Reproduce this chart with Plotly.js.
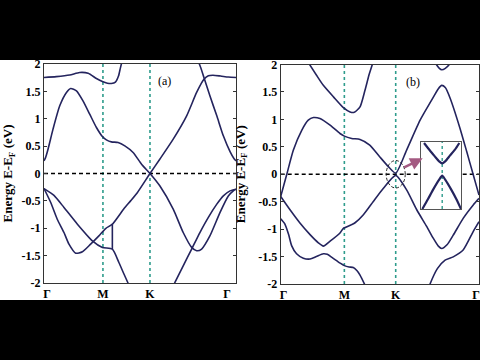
<!DOCTYPE html>
<html>
<head>
<meta charset="utf-8">
<script src="https://cdn.plot.ly/plotly-3.0.1.min.js"></script>
<style>html,body{margin:0;padding:0;background:#000;}#chart{width:480px;height:360px;}</style>
</head>
<body>
<div id="chart"></div>
<script>
// ---------- Data (path coordinate 0..1, energy in eV) ----------
// Panel (a) high-symmetry points (dashed lines at M, K) and label positions
const aSymK = [0, 0.307, 0.552, 1];
const aLabelK = [0.016, 0.307, 0.552, 0.953];
const symLabels = ['Γ', 'M', 'K', 'Γ'];
const yTickVals = [2, 1.5, 1, 0.5, 0, -0.5, -1, -1.5, -2];
const yTickText = ['2', '1.5', '1', '0.5', '0', '-0.5', '-1', '-1.5', '-2'];

// Panel (a) bands
const a1K = [0, 0.064, 0.134, 0.186, 0.23, 0.273, 0.304, 0.33, 0.351, 0.372, 0.388, 0.398, 0.41];
const a1E = [1.753, 1.77, 1.80, 1.845, 1.83, 1.735, 1.68, 1.65, 1.644, 1.67, 1.78, 1.93, 2.1];

const a2K = [0, 0.008, 0.021, 0.047, 0.082, 0.117, 0.139, 0.169, 0.203, 0.238, 0.273, 0.304, 0.325, 0.351, 0.386, 0.421, 0.464, 0.508, 0.552, 0.603, 0.673, 0.725, 0.769, 0.795, 0.821, 0.864, 0.917, 0.96, 0.986, 1];
const a2E = [0.231, 0.29, 0.444, 0.81, 1.236, 1.48, 1.553, 1.51, 1.327, 1.084, 0.84, 0.676, 0.615, 0.578, 0.566, 0.505, 0.384, 0.17, 0, -0.225, -0.651, -1.078, -1.35, -1.41, -1.38, -1.14, -0.71, -0.41, -0.317, -0.286];

const a3K = [0, 0.035, 0.069, 0.104, 0.13, 0.165, 0.2, 0.243, 0.286, 0.321, 0.356, 0.417, 0.451, 0.486, 0.552, 0.603, 0.673, 0.743, 0.795, 0.833, 0.856, 0.88, 0.92, 0.96, 1];
const a3E = [-0.275, -0.53, -0.835, -1.078, -1.29, -1.456, -1.43, -1.29, -1.14, -1.005, -0.926, -0.64, -0.5, -0.35, 0, 0.26, 0.627, 1.053, 1.48, 1.72, 1.785, 1.795, 1.78, 1.762, 1.753];

const a4K = [0.79, 0.809, 0.833, 0.864, 0.9, 0.934, 0.969, 0.99, 1];
const a4E = [2.1, 2.0, 1.753, 1.419, 1.053, 0.688, 0.4, 0.27, 0.231];

const a5K = [0, 0.052, 0.104, 0.174, 0.252, 0.304, 0.356, 0.39, 0.417, 0.4375, 0.45];
const a5E = [-0.275, -0.4, -0.62, -0.926, -1.23, -1.35, -1.383, -1.626, -1.84, -2.0, -2.1];

const a6K = [0.356, 0.356];
const a6E = [-0.926, -1.383];

const a7K = [0.67, 0.682, 0.725, 0.769, 0.812, 0.856, 0.9, 0.934, 0.969, 1];
const a7E = [-2.08, -1.99, -1.686, -1.38, -1.078, -0.80, -0.56, -0.408, -0.317, -0.286];

// Panel (b) high-symmetry points and label positions
const bSymK = [0, 0.321, 0.58, 1];
const bLabelK = [0.015, 0.321, 0.58, 0.985];

// Panel (b) bands
const b1K = [0.13, 0.139, 0.1815, 0.215, 0.266, 0.316, 0.35, 0.371, 0.4, 0.425, 0.447, 0.462, 0.47];
const b1E = [2.1, 2.04, 1.80, 1.62, 1.41, 1.215, 1.136, 1.13, 1.227, 1.53, 1.83, 2.0, 2.1];

const b2K = [0.77, 0.785, 0.80, 0.812, 0.83, 0.85, 0.865];
const b2E = [2.1, 2.0, 1.93, 1.905, 1.93, 2.0, 2.1];

const b3K = [0, 0.03, 0.064, 0.106, 0.139, 0.165, 0.198, 0.249, 0.299, 0.321, 0.358, 0.4, 0.449, 0.499, 0.543, 0.58, 0.635, 0.703, 0.761, 0.795, 0.812, 0.83, 0.854, 0.904, 0.938, 0.971, 1];
const b3E = [-0.405, -0.01, 0.44, 0.80, 0.985, 1.033, 1.015, 0.894, 0.743, 0.695, 0.653, 0.634, 0.532, 0.32, 0.139, 0.02, 0.44, 0.985, 1.35, 1.56, 1.62, 1.58, 1.39, 0.84, 0.413, -0.01, -0.38];

const b4K = [0, 0.047, 0.097, 0.148, 0.19, 0.215, 0.249, 0.299, 0.316, 0.358, 0.375, 0.417, 0.467, 0.518, 0.58, 0.635, 0.686, 0.736, 0.77, 0.795, 0.812, 0.84, 0.87, 0.921, 0.971, 1];
const b4E = [-0.405, -0.647, -0.888, -1.1, -1.25, -1.31, -1.22, -1.07, -0.986, -0.918, -0.884, -0.737, -0.495, -0.254, -0.02, -0.284, -0.647, -0.95, -1.17, -1.31, -1.352, -1.28, -1.11, -0.80, -0.56, -0.44];

const b5K = [0, 0.02, 0.04, 0.055, 0.08, 0.114, 0.148, 0.18, 0.215, 0.235, 0.26, 0.3, 0.321, 0.345, 0.366, 0.385, 0.40, 0.425];
const b5E = [-0.81, -0.9, -1.1, -1.3, -1.45, -1.53, -1.545, -1.5, -1.45, -1.46, -1.52, -1.62, -1.665, -1.69, -1.70, -1.76, -1.84, -2.02];

const b6K = [0.745, 0.753, 0.79, 0.829, 0.87, 0.92, 0.97, 1];
const b6E = [-2.08, -2.0, -1.72, -1.565, -1.505, -1.38, -1.05, -0.866];

// Inset (zoom of the gap at K), inset units 0..1
const insUpK = [0.076, 0.218, 0.345, 0.454, 0.53, 0.605, 0.723, 0.849, 0.958];
const insUpE = [0.985, 0.876, 0.786, 0.711, 0.68, 0.711, 0.796, 0.886, 0.985];
const insLoK = [0.034, 0.176, 0.303, 0.454, 0.53, 0.605, 0.756, 0.882, 1.0];
const insLoE = [0.0, 0.149, 0.289, 0.438, 0.498, 0.438, 0.289, 0.149, 0.0];
const insMidK = 0.53;

// ---------- Styling ----------
const bandColor = '#24245e';
const greenColor = '#2e9c8c';
const serif = 'Liberation Serif, Times New Roman, serif';
const W = 480, H = 360;
const px = v => v / W;
const py = v => 1 - v / H;

function band(k, e, xa, ya) {
  return {x: k, y: e, xaxis: xa, yaxis: ya, type: 'scatter', mode: 'lines',
    line: {color: bandColor, width: 1.6, shape: 'spline', smoothing: 0.6},
    hoverinfo: 'skip', showlegend: false};
}
function vline(k, xa, ya, y0, y1, color, dash, w) {
  return {x: [k, k], y: [y0, y1], xaxis: xa, yaxis: ya, type: 'scatter', mode: 'lines',
    line: {color: color, width: w, dash: dash}, hoverinfo: 'skip', showlegend: false};
}
function hline(xa, ya, x0, x1, y) {
  return {x: [x0, x1], y: [y, y], xaxis: xa, yaxis: ya, type: 'scatter', mode: 'lines',
    line: {color: '#000', width: 1.5, dash: '4px,3px'}, hoverinfo: 'skip', showlegend: false};
}

const traces = [];
// Panel (a)
traces.push(vline(aSymK[1], 'x', 'y', -2, 2, greenColor, '3px,3px', 1.6));
traces.push(vline(aSymK[2], 'x', 'y', -2, 2, greenColor, '3px,3px', 1.6));
traces.push(hline('x', 'y', 0, 1, 0));
[[a1K, a1E], [a2K, a2E], [a3K, a3E], [a4K, a4E], [a5K, a5E], [a7K, a7E]].forEach(p => traces.push(band(p[0], p[1], 'x', 'y')));
traces.push(Object.assign(band(a6K, a6E, 'x', 'y'), {line: {color: bandColor, width: 1.6}}));
// Panel (b)
traces.push(vline(bSymK[1], 'x2', 'y2', -2, 2, greenColor, '3px,3px', 1.6));
traces.push(vline(bSymK[2], 'x2', 'y2', -2, 2, greenColor, '3px,3px', 1.6));
traces.push(hline('x2', 'y2', 0, 1, 0));
[[b1K, b1E], [b2K, b2E], [b3K, b3E], [b4K, b4E], [b5K, b5E], [b6K, b6E]].forEach(p => traces.push(band(p[0], p[1], 'x2', 'y2')));
// Inset
traces.push(vline(insMidK, 'x3', 'y3', 0, 1, greenColor, '3px,3px', 1.4));
traces.push(Object.assign(band(insUpK, insUpE, 'x3', 'y3'), {line: {color: bandColor, width: 2.2, shape: 'spline', smoothing: 0.6}}));
traces.push(Object.assign(band(insLoK, insLoE, 'x3', 'y3'), {line: {color: bandColor, width: 2.2, shape: 'spline', smoothing: 0.6}}));

const tickFont = {family: serif, size: 12, color: '#000', weight: 'bold'};
const titleFont = {family: serif, size: 13, color: '#000', weight: 'bold'};

function xAxis(domain, anchor, labelPos) {
  return {domain: domain, anchor: anchor, range: [0, 1], showgrid: false, zeroline: false,
    showline: true, mirror: true, linecolor: '#333', linewidth: 1,
    tickmode: 'array', tickvals: labelPos, ticktext: symLabels, ticks: '', tickfont: tickFont,
    ticklabeloverflow: 'allow', fixedrange: true};
}
function yAxis(domain, anchor) {
  return {domain: domain, anchor: anchor, range: [-2, 2], showgrid: false, zeroline: false,
    showline: true, mirror: 'ticks', linecolor: '#333', linewidth: 1,
    tickmode: 'array', tickvals: yTickVals, ticktext: yTickText, ticks: 'inside', ticklen: 3,
    tickcolor: '#333', tickfont: tickFont, fixedrange: true,
    title: {text: 'Energy E-E<sub>F</sub> (eV)', font: titleFont}};
}

const layout = {
  width: W, height: H,
  margin: {l: 0, r: 0, t: 0, b: 0},
  paper_bgcolor: '#000', plot_bgcolor: '#fff',
  showlegend: false,
  xaxis: xAxis([px(44), px(236)], 'y', aLabelK),
  yaxis: yAxis([py(283), py(64)], 'x'),
  xaxis2: xAxis([px(280.7), px(479)], 'y2', bLabelK),
  yaxis2: yAxis([py(284), py(64.5)], 'x2'),
  xaxis3: {domain: [px(421), px(461)], anchor: 'y3', range: [0, 1], showgrid: false, zeroline: false,
    showline: true, mirror: true, linecolor: '#555', linewidth: 1, showticklabels: false, ticks: '', fixedrange: true},
  yaxis3: {domain: [py(209), py(142)], anchor: 'x3', range: [0, 1], showgrid: false, zeroline: false,
    showline: true, mirror: true, linecolor: '#555', linewidth: 1, showticklabels: false, ticks: '', fixedrange: true},
  shapes: [
    {type: 'rect', xref: 'paper', yref: 'paper', x0: 0, x1: 1, y0: py(300), y1: py(60),
      fillcolor: '#fff', line: {width: 0}, layer: 'below'},
    {type: 'circle', xref: 'x2', yref: 'y2', x0: 0.532, x1: 0.628, y0: -0.25, y1: 0.25,
      line: {color: '#222', width: 1, dash: '3px,2px'}}
  ],
  annotations: [
    {xref: 'x', yref: 'y', x: 0.63, y: 1.69, text: '(a)', showarrow: false,
      font: {family: serif, size: 12, color: '#000'}},
    {xref: 'x2', yref: 'y2', x: 0.666, y: 1.69, text: '(b)', showarrow: false,
      font: {family: serif, size: 12, color: '#000'}},
    {xref: 'x2', yref: 'y2', x: 0.716, y: 0.29, axref: 'x2', ayref: 'y2', ax: 0.615, ay: 0.11,
      text: '', showarrow: true, arrowhead: 2, arrowsize: 1, arrowwidth: 2.5, arrowcolor: '#a45a82'}
  ]
};

Plotly.newPlot('chart', traces, layout, {staticPlot: true, displayModeBar: false});
</script>
</body>
</html>
